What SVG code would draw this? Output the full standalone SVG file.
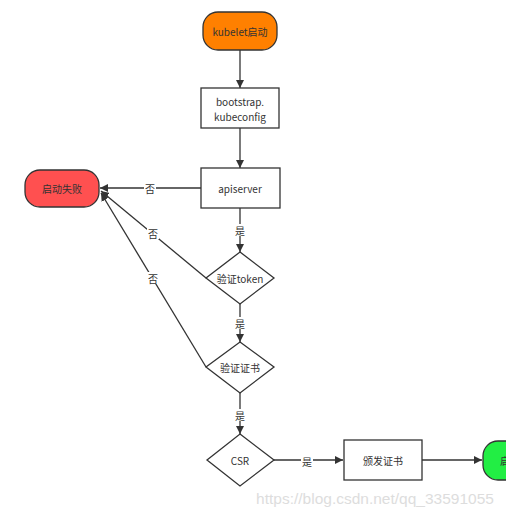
<svg xmlns="http://www.w3.org/2000/svg" width="506" height="518" viewBox="0 0 506 518">
<defs>
<marker id="arr" viewBox="0 0 10 10" refX="10" refY="5" markerWidth="8" markerHeight="8" markerUnits="userSpaceOnUse" orient="auto"><path d="M0,0 L10,5 L0,10 Z" fill="#333"/></marker>
<style>
.n{stroke:#333;stroke-width:1.3}
.box{fill:#fff}
.t{font-family:"Noto Sans CJK SC","Liberation Sans",sans-serif;font-size:10px;fill:#333;text-anchor:middle;dominant-baseline:central}
.c{fill:none;stroke:#333;stroke-width:1.3}
.lb{font-family:"Noto Sans CJK SC","Liberation Sans",sans-serif;font-size:10px;fill:#333;text-anchor:middle;dominant-baseline:central}
.lbg{fill:#fff}
</style>
</defs>
<rect width="506" height="518" fill="#fff"/>
<g id="connectors">
<path class="c" d="M240,50 V88" marker-end="url(#arr)"/>
<path class="c" d="M240,128 V168" marker-end="url(#arr)"/>
<path class="c" d="M201,188 H100" marker-end="url(#arr)"/>
<path class="c" d="M240,208 V252" marker-end="url(#arr)"/>
<path class="c" d="M206,278 L101,191" marker-end="url(#arr)"/>
<path class="c" d="M240,304 V342" marker-end="url(#arr)"/>
<path class="c" d="M206,367 L101,193" marker-end="url(#arr)"/>
<path class="c" d="M240,393 V434" marker-end="url(#arr)"/>
<path class="c" d="M274,460 H343" marker-end="url(#arr)"/>
<path class="c" d="M422,460 H482" marker-end="url(#arr)"/>
<rect class="lbg" x="144" y="182" width="12" height="12"/>
<text class="lb" x="150" y="188">否</text>
<rect class="lbg" x="234" y="224" width="12" height="12"/>
<text class="lb" x="240" y="230">是</text>
<rect class="lbg" x="147" y="227" width="12" height="12"/>
<text class="lb" x="153" y="233">否</text>
<rect class="lbg" x="147" y="272" width="12" height="12"/>
<text class="lb" x="153" y="278">否</text>
<rect class="lbg" x="234" y="317" width="12" height="12"/>
<text class="lb" x="240" y="323">是</text>
<rect class="lbg" x="234" y="409" width="12" height="12"/>
<text class="lb" x="240" y="415">是</text>
<rect class="lbg" x="301" y="455" width="12" height="12"/>
<text class="lb" x="307" y="461">是</text>
</g>
<g id="start">
<rect class="n" x="203" y="12" width="74" height="38" rx="15" fill="#FF8000"/>
<text class="t" x="240" y="31">kubelet启动</text>
</g>
<g id="bootstrap">
<rect class="n box" x="201" y="88" width="78" height="40"/>
<text class="t" x="240" y="101">bootstrap.</text>
<text class="t" x="240" y="116">kubeconfig</text>
</g>
<g id="apiserver">
<rect class="n box" x="201" y="168" width="79" height="40"/>
<text class="t" x="240" y="188">apiserver</text>
</g>
<g id="fail">
<rect class="n" x="25" y="170" width="74" height="37" rx="15" fill="#FF5050"/>
<text class="t" x="62" y="188">启动失败</text>
</g>
<g id="token">
<path class="n box" d="M240,252 L274,278 L240,304 L206,278 Z"/>
<text class="t" x="240" y="278">验证token</text>
</g>
<g id="cert">
<path class="n box" d="M240,342 L274,367 L240,393 L206,367 Z"/>
<text class="t" x="240" y="367">验证证书</text>
</g>
<g id="csr">
<path class="n box" d="M240,434 L274,460 L240,486 L207,460 Z"/>
<text class="t" x="240" y="460">CSR</text>
</g>
<g id="issue">
<rect class="n box" x="344" y="440" width="78" height="40"/>
<text class="t" x="383" y="460">颁发证书</text>
</g>
<g id="success">
<rect class="n" x="483" y="441" width="74" height="39" rx="15" fill="#22EE44"/>
<text class="t" x="520" y="460">启动成功</text>
</g>
<text x="375" y="498" font-family="Liberation Sans, sans-serif" font-size="15.5" fill="#ddd" text-anchor="middle" dominant-baseline="central">https://blog.csdn.net/qq_33591055</text>
</svg>
